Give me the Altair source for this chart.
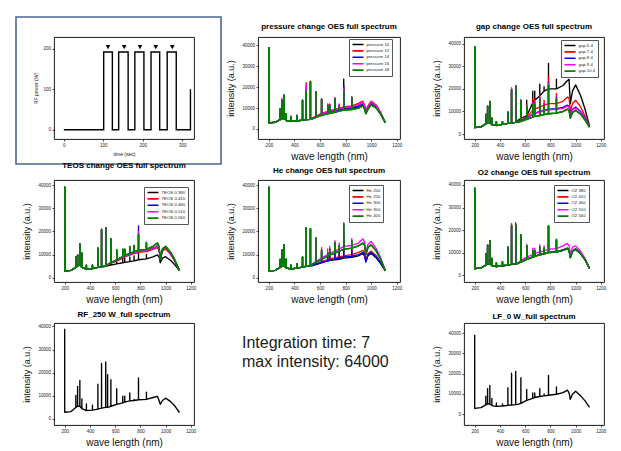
import altair as alt
import pandas as pd

# ---------------- RF power trace (top-left panel) ----------------
PULSE_T = [0, 101, 101, 123, 123, 139, 139, 163, 163, 180, 180, 203, 203, 221, 221, 243, 243, 262, 262, 285, 285, 321, 321]
PULSE_P = [0, 0, 192, 192, 0, 0, 192, 192, 0, 0, 192, 192, 0, 0, 192, 192, 0, 0, 192, 192, 0, 0, 100]
MARK_T = [112, 153, 193, 233, 275]
MARK_P = [204, 204, 204, 204, 204]

# ---------------- spectra ----------------
SHORT_WL = [200, 250, 288, 302, 320, 336, 372, 420, 463, 492, 525]
LONG_WL = [540, 566, 612, 660, 676, 716, 750, 785, 848, 900, 935, 948, 958, 975, 1000, 1040, 1075, 1110]
PEAK_WL = [288, 302, 320, 336, 372, 420, 463, 492, 525, 540, 566, 612, 660, 676, 716, 750, 785, 848]
COLORS5 = ["#000000", "#ff0000", "#0000ff", "#ff00ff", "#008000"]

# pressure
P_NAMES = ["pressure 10", "pressure 12", "pressure 14", "pressure 16", "pressure 18"]
P_SPIKE = 39100
P_SHORT = [2900, 3200, 4500, 5000, 5000, 4000, 3600, 3800, 4200, 4500, 4600]
P_LONG_BLACK = [4900, 5600, 6800, 7500, 7800, 8300, 8800, 9300, 9700, 10500, 11500, 10000, 7600, 10000, 12000, 10300, 7200, 3000]
P_LONG_RED = [5200, 6000, 7500, 8400, 8800, 9400, 10000, 10600, 11000, 12200, 13300, 11500, 8800, 11200, 13300, 11400, 7800, 3100]
P_LONG_BLUE = [5000, 5800, 7000, 7800, 8200, 8800, 9300, 9800, 10200, 11000, 12000, 10500, 8000, 10300, 12300, 10600, 7400, 3000]
P_LONG_MAG = [5100, 5900, 7200, 8000, 8500, 9000, 9600, 10200, 10600, 11600, 12500, 11000, 8300, 10700, 12700, 11000, 7600, 3100]
P_LONG_GREEN = [4800, 5500, 6500, 7200, 7500, 8000, 8500, 9000, 9300, 10000, 11000, 9500, 7300, 9500, 11500, 10000, 7000, 3000]
P_PK_BLACK = [9700, 13400, 16200, 7300, 6000, 6500, 13800, 18500, 22700, 0, 17800, 14200, 11500, 11500, 14500, 11000, 23800, 15000]
P_PK_RED = [9700, 13800, 16200, 7300, 6000, 6500, 13800, 22200, 22700, 0, 17800, 14500, 12000, 12000, 15000, 12000, 20000, 15500]
P_PK_BLUE = [9700, 14000, 16200, 7300, 6000, 6500, 13800, 20000, 22700, 0, 17800, 14200, 11500, 11500, 14500, 11500, 21000, 15000]
P_PK_MAG = [9700, 14600, 16200, 7300, 6000, 6500, 13800, 21000, 22700, 0, 17800, 14300, 11800, 11800, 14800, 11800, 19500, 15200]
P_PK_GREEN = [9700, 13400, 16200, 7300, 6000, 6500, 13800, 17800, 22700, 0, 17800, 14200, 11300, 11300, 14200, 10500, 17800, 15000]

# gap
G_NAMES = ["gap 6.4", "gap 7.4", "gap 8.4", "gap 9.4", "gap 10.4"]
G_SPIKE = 39000
G_SHORT = [2900, 3200, 4500, 5000, 5200, 4200, 3800, 4300, 4700, 5000, 5200]
G_LONG_BLACK = [6000, 7000, 8000, 13800, 15000, 17000, 19000, 20000, 20000, 21500, 23700, 24200, 13500, 19000, 21800, 17000, 11000, 3600]
G_LONG_RED = [5600, 6200, 7500, 10500, 11000, 12000, 12800, 13500, 13500, 14500, 16400, 16000, 10000, 13500, 15000, 12000, 8000, 3500]
G_LONG_BLUE = [5400, 5800, 7000, 9000, 9300, 10000, 10500, 11000, 11200, 11800, 12800, 12300, 8500, 11000, 12000, 10000, 7000, 3300]
G_LONG_MAG = [5300, 5700, 6800, 8700, 9000, 9700, 10200, 10700, 10900, 11400, 12400, 12000, 8300, 10700, 11600, 9800, 6800, 3200]
G_LONG_GREEN = [5200, 5600, 6500, 7500, 7800, 8200, 8600, 9000, 9300, 10000, 11000, 10500, 7000, 9500, 10500, 8800, 6200, 3000]
G_PK_BLACK = [8700, 12400, 14500, 7000, 5500, 5500, 9700, 19900, 21400, 0, 15000, 15000, 19000, 19000, 22100, 21000, 31300, 24300]
G_PK_RED = [8700, 12400, 14500, 7000, 5500, 5500, 9700, 19900, 21400, 0, 15000, 13000, 15500, 15500, 17500, 15000, 25500, 18000]
G_PK_BLUE = [8700, 12400, 14500, 7000, 5500, 5500, 9700, 19900, 21400, 0, 15000, 12500, 14000, 14000, 16000, 13500, 23000, 16500]
G_PK_MAG = [8700, 12400, 14500, 7000, 5500, 5500, 9700, 20500, 21400, 0, 15000, 12300, 13800, 13800, 15800, 13200, 22500, 16200]
G_PK_GREEN = [8700, 12400, 14500, 7000, 5500, 5500, 9700, 19500, 21000, 0, 14500, 12000, 13000, 13000, 15000, 12500, 21500, 15500]

# TEOS
T_NAMES = ["TEOS 0.380", "TEOS 0.410", "TEOS 0.460", "TEOS 0.510", "TEOS 0.560"]
T_SPIKE = 39300
T_SHORT = [2900, 3200, 4500, 5200, 5500, 4500, 3800, 4000, 4500, 4800, 5000]
T_LONG_BLACK = [5200, 5500, 6000, 6500, 6700, 7000, 7300, 7800, 8200, 9000, 9900, 9000, 6500, 8500, 9100, 7500, 5500, 3000]
T_LONG_RED = [5500, 6200, 7200, 8500, 9000, 9800, 10500, 11000, 11300, 12300, 13000, 12000, 8000, 11500, 12500, 10000, 7000, 3100]
T_LONG_BLUE = [5600, 6400, 7500, 8800, 9300, 10200, 10900, 11500, 11800, 12800, 13700, 12500, 8200, 12000, 13000, 10400, 7200, 3100]
T_LONG_MAG = [5600, 6400, 7500, 8800, 9300, 10200, 10900, 11500, 11800, 12800, 13800, 12600, 8200, 12000, 13000, 10400, 7200, 3100]
T_LONG_GREEN = [5700, 6600, 7800, 9200, 9700, 10600, 11300, 12000, 12300, 13600, 15000, 13500, 8000, 12500, 13500, 11000, 7500, 3100]
T_PK_BLACK = [9000, 9900, 14600, 10600, 5500, 5500, 12800, 20900, 21600, 0, 16800, 9000, 8500, 8500, 9000, 9500, 11000, 10000]
T_PK_RED = [9000, 9900, 14600, 10600, 5500, 5500, 12800, 20900, 21600, 0, 16800, 12000, 12000, 12000, 13000, 13500, 19000, 14500]
T_PK_BLUE = [9000, 9900, 14600, 10600, 5500, 5500, 12800, 20900, 21600, 0, 16800, 12000, 12200, 12200, 13200, 13800, 22400, 15000]
T_PK_MAG = [9000, 9900, 14600, 10600, 5500, 5500, 12800, 20900, 21600, 0, 16800, 12000, 12200, 12200, 13200, 13800, 20000, 15000]
T_PK_GREEN = [9000, 9900, 14600, 10600, 5500, 5500, 12800, 20900, 21600, 0, 16800, 12000, 12400, 12400, 13500, 14000, 18700, 15300]

# He
H_NAMES = ["He 200", "He 250", "He 300", "He 350", "He 400"]
H_SPIKE = 39300
H_SHORT = [2900, 3200, 4500, 5000, 5200, 4300, 3800, 4200, 4600, 5000, 5200]
H_LONG_BLACK = [5300, 5700, 6500, 7200, 7500, 7800, 8000, 8500, 8800, 9500, 10500, 9500, 7000, 9500, 10500, 8500, 6000, 3000]
H_LONG_RED = [5500, 6000, 7000, 7800, 8200, 8700, 9000, 9500, 10000, 11000, 11800, 10800, 7500, 10500, 11500, 9500, 6500, 3000]
H_LONG_BLUE = [5300, 5800, 6700, 7400, 7700, 8100, 8500, 9000, 9300, 10000, 11000, 10000, 6800, 10000, 11000, 9000, 6300, 3000]
H_LONG_MAG = [6000, 7000, 8500, 10000, 10500, 11500, 12500, 13500, 14000, 15000, 16800, 15500, 11000, 14500, 15700, 12500, 8500, 3200]
H_LONG_GREEN = [5800, 6600, 8000, 9300, 9800, 10700, 11500, 12300, 12800, 13800, 15000, 14000, 10000, 13200, 14200, 11500, 7800, 3100]
H_PK_BLACK = [7900, 12000, 14300, 8000, 5500, 6000, 9000, 21500, 21200, 0, 17200, 11000, 9500, 10000, 12000, 11000, 18000, 12000]
H_PK_RED = [7900, 12000, 14300, 8000, 5500, 6000, 9000, 21500, 21200, 0, 17200, 11500, 10000, 10500, 12500, 11500, 19000, 13000]
H_PK_BLUE = [7900, 12000, 14300, 8000, 5500, 6000, 9000, 21500, 21200, 0, 17200, 12000, 10500, 11000, 13000, 11500, 20500, 12500]
H_PK_MAG = [7900, 12000, 14300, 8000, 5500, 6000, 9000, 21500, 21200, 0, 17200, 13000, 12500, 13500, 16000, 15000, 23800, 17000]
H_PK_GREEN = [7900, 12000, 14300, 8000, 5500, 6000, 9000, 21500, 21200, 0, 17200, 12000, 11000, 12500, 15300, 14000, 23400, 16000]

# O2
O_NAMES = ["O2 380", "O2 410", "O2 460", "O2 510", "O2 560"]
O_SPIKE = 38800
O_SHORT = [2900, 3200, 4500, 5000, 5200, 4300, 3800, 4200, 4500, 4800, 5000]
O_LONG_BLACK = [5200, 5800, 7000, 8000, 8400, 9000, 9500, 10000, 10300, 11000, 11800, 11000, 7800, 10500, 11500, 9500, 6800, 3000]
O_LONG_RED = [5200, 5900, 7100, 8100, 8500, 9100, 9600, 10100, 10400, 11200, 12000, 11200, 8000, 10700, 11700, 9700, 6900, 3000]
O_LONG_BLUE = [5200, 5900, 7100, 8100, 8500, 9100, 9600, 10100, 10400, 11200, 12000, 11200, 8000, 10700, 11700, 9700, 6900, 3000]
O_LONG_MAG = [5500, 6500, 8000, 9200, 9700, 10300, 10800, 11500, 11800, 13000, 14100, 13000, 9000, 12500, 13000, 10500, 7500, 3100]
O_LONG_GREEN = [5200, 5800, 7000, 8000, 8400, 9000, 9500, 10000, 10300, 11000, 11800, 11000, 7800, 10500, 11400, 9500, 6800, 3000]
O_PK_BLACK = [9500, 13400, 15300, 7500, 5500, 6000, 12400, 22000, 22500, 0, 17900, 13100, 11000, 11000, 12500, 12000, 21800, 15700]
O_PK_RED = [9500, 13400, 15300, 7500, 5500, 6000, 12400, 22800, 23300, 0, 17900, 13100, 11000, 11000, 12500, 12000, 21800, 15700]
O_PK_BLUE = [9500, 13400, 15300, 7500, 5500, 6000, 12400, 22000, 22500, 0, 17900, 13100, 11000, 11000, 12500, 12000, 21800, 15700]
O_PK_MAG = [9500, 13400, 15300, 7500, 5500, 6000, 12400, 22000, 22500, 0, 17900, 13600, 12000, 12000, 13500, 13000, 22000, 16000]
O_PK_GREEN = [9500, 13400, 15300, 7500, 5500, 6000, 12400, 22000, 22500, 0, 17900, 13100, 11000, 11000, 12500, 12000, 21800, 15700]

# RF 250 W single spectrum
RF_SPIKE = 39000
RF_SHORT = [2900, 3200, 5000, 5500, 5500, 4500, 3600, 3800, 4300, 4700, 5000]
RF_LONG = [5000, 5500, 6300, 7000, 7300, 7800, 8000, 8300, 8500, 9300, 9800, 8000, 6300, 8000, 9000, 7500, 5500, 2800]
RF_PEAKS = [10200, 14100, 16700, 8700, 6500, 6000, 15000, 24000, 24700, 19200, 17000, 13100, 9900, 9900, 11300, 8500, 17700, 11600]

# LF 0 W single spectrum
LF_SPIKE = 39200
LF_SHORT = [2800, 3200, 4500, 5000, 5000, 4200, 3800, 4000, 4300, 4500, 4700]
LF_LONG = [4800, 5300, 6800, 7800, 8200, 8700, 9000, 9300, 9800, 10600, 11800, 10500, 7300, 9800, 11300, 9000, 6500, 3300]
LF_PEAKS = [8800, 12600, 14200, 7700, 5500, 5000, 13100, 20200, 21100, 0, 18000, 12200, 10400, 10400, 12600, 10000, 19100, 13400]

INFO_LINES = ["Integration time: 7", "max intensity: 64000"]

FONT = "Liberation Sans"
WL_DOMAIN = [115, 1225]
WL_TICKS = [200, 400, 600, 800, 1000, 1200]
I_TICKS = [0, 10000, 20000, 30000, 40000]


def spectrum_rows(name, spike, short, long_, peaks):
    peak_at = dict(zip(PEAK_WL, peaks))
    pts = [(199.6, spike)]
    for w, b in zip(SHORT_WL + LONG_WL, short + long_):
        p = peak_at.get(w, 0)
        if p:
            pts += [(w - 0.3, b), (w, p), (w + 0.3, b)]
        else:
            pts.append((w, b))
    return [{"series": name, "wl": w, "I": v, "k": i} for i, (w, v) in enumerate(pts)]


def spectra_df(names, spike, short, longs, peaks):
    rows = []
    for n, lg, pk in zip(names, longs, peaks):
        rows += spectrum_rows(n, spike, short, lg, pk)
    return pd.DataFrame(rows)


def spec_panel(df, title, ydom, width, toff, names=None, lx=90, ly=3):
    if names:
        color = alt.Color(
            "series:N",
            scale=alt.Scale(domain=names, range=COLORS5),
            legend=alt.Legend(
                orient="none", legendX=lx, legendY=ly, direction="vertical", title=None,
                labelFontSize=4.3, labelFont=FONT, labelColor="#222", labelOffset=2,
                symbolType="stroke", symbolSize=121, symbolStrokeWidth=1.6,
                clipHeight=6, rowPadding=0.4, padding=2.5,
                strokeColor="#555", fillColor="white",
            ),
        )
        order = list(names) + [names[-1], names[-1]]
    else:
        names = [df["series"].iloc[0]]
        order = names
        color = alt.value("#000000")
    base = alt.Chart(df).mark_line(strokeWidth=1.35, clip=True, strokeJoin="round").encode(
        x=alt.X("wl:Q", scale=alt.Scale(domain=WL_DOMAIN, nice=False, zero=False),
                axis=alt.Axis(values=WL_TICKS, title="wave length (nm)", format="d",
                              titleFontSize=10, titlePadding=4)),
        y=alt.Y("I:Q", scale=alt.Scale(domain=ydom, nice=False, zero=False),
                axis=alt.Axis(values=I_TICKS, title="intensity (a.u.)", format="d",
                              titleFontSize=9, titlePadding=6)),
        color=color,
        order="k:Q",
    )
    # one layer per series; the last (top) series is stroked again so that it
    # stays opaque over the identical lines underneath, as in the original plot
    layers = [base.transform_filter(alt.datum.series == n) for n in order]
    return alt.layer(*layers).properties(
        width=width, height=102,
        title=alt.Title(title, offset=toff, fontSize=8, font=FONT, fontWeight="bold"),
    )


# ---- panel 1: RF power pulses with blue frame ----
pulse_df = pd.DataFrame({"t": PULSE_T, "p": PULSE_P, "k": list(range(len(PULSE_T)))})
mark_df = pd.DataFrame({"t": MARK_T, "p": MARK_P})
xs1 = alt.Scale(domain=[-25, 330], nice=False, zero=False)
ys1 = alt.Scale(domain=[-23, 229], nice=False, zero=False)
pulse_line = alt.Chart(pulse_df).mark_line(color="black", strokeWidth=1.4).encode(
    x=alt.X("t:Q", scale=xs1, axis=alt.Axis(values=[0, 50, 100, 150, 200, 250, 300], title="time (sec)",
                                            titleFontSize=5, titlePadding=4)),
    y=alt.Y("p:Q", scale=ys1, axis=alt.Axis(values=[0, 50, 100, 150, 200], title="RF power (W)",
                                            titleFontSize=5, titlePadding=4)),
    order="k:Q",
)
pulse_marks = alt.Chart(mark_df).mark_point(shape="triangle-down", filled=True, color="black", size=22, opacity=1).encode(
    x=alt.X("t:Q", scale=xs1), y=alt.Y("p:Q", scale=ys1)
)
frame = alt.Chart(pd.DataFrame({"f": [0]})).mark_rect(
    fill="transparent", stroke="#4a6898", strokeWidth=1.6
).encode(x=alt.value(-38), x2=alt.value(167), y=alt.value(-20), y2=alt.value(127))
p1 = alt.layer(frame, pulse_line, pulse_marks).properties(width=140, height=102)

p2 = spec_panel(
    spectra_df(P_NAMES, P_SPIKE, P_SHORT,
               [P_LONG_BLACK, P_LONG_RED, P_LONG_BLUE, P_LONG_MAG, P_LONG_GREEN],
               [P_PK_BLACK, P_PK_RED, P_PK_BLUE, P_PK_MAG, P_PK_GREEN]),
    "pressure change OES full spectrum", [-4800, 44000], 142, 6, P_NAMES, lx=91, ly=2)
p3 = spec_panel(
    spectra_df(G_NAMES, G_SPIKE, G_SHORT,
               [G_LONG_BLACK, G_LONG_RED, G_LONG_BLUE, G_LONG_MAG, G_LONG_GREEN],
               [G_PK_BLACK, G_PK_RED, G_PK_BLUE, G_PK_MAG, G_PK_GREEN]),
    "gap change OES full spectrum", [-2200, 43000], 140, 6, G_NAMES, lx=97, ly=3)
p4 = spec_panel(
    spectra_df(T_NAMES, T_SPIKE, T_SHORT,
               [T_LONG_BLACK, T_LONG_RED, T_LONG_BLUE, T_LONG_MAG, T_LONG_GREEN],
               [T_PK_BLACK, T_PK_RED, T_PK_BLUE, T_PK_MAG, T_PK_GREEN]),
    "TEOS change OES full spectrum", [-1800, 42200], 140, 10, T_NAMES, lx=90, ly=7)
p5 = spec_panel(
    spectra_df(H_NAMES, H_SPIKE, H_SHORT,
               [H_LONG_BLACK, H_LONG_RED, H_LONG_BLUE, H_LONG_MAG, H_LONG_GREEN],
               [H_PK_BLACK, H_PK_RED, H_PK_BLUE, H_PK_MAG, H_PK_GREEN]),
    "He change OES full spectrum", [-1800, 42200], 142, 5, H_NAMES, lx=91, ly=5)
p6 = spec_panel(
    spectra_df(O_NAMES, O_SPIKE, O_SHORT,
               [O_LONG_BLACK, O_LONG_RED, O_LONG_BLUE, O_LONG_MAG, O_LONG_GREEN],
               [O_PK_BLACK, O_PK_RED, O_PK_BLUE, O_PK_MAG, O_PK_GREEN]),
    "O2 change OES full spectrum", [-3000, 42200], 140, 3, O_NAMES, lx=90, ly=5)
p7 = spec_panel(spectra_df(["RF 250 W"], RF_SPIKE, RF_SHORT, [RF_LONG], [RF_PEAKS]),
                "RF_250 W_full spectrum", [-2600, 41500], 140, 4)
p9 = spec_panel(spectra_df(["LF 0 W"], LF_SPIKE, LF_SHORT, [LF_LONG], [LF_PEAKS]),
                "LF_0 W_full spectrum", [-5400, 45000], 140, 2)

info_df = pd.DataFrame({"line": INFO_LINES})
p8 = (
    alt.Chart(info_df)
    .mark_text(align="left", baseline="middle", font=FONT, fontSize=16, color="#1a1a1a")
    .encode(
        x=alt.value(-16),
        y=alt.Y("line:N", scale=alt.Scale(domain=INFO_LINES, range=[20, 39], padding=0), axis=None),
        text="line:N",
    )
    .properties(width=142, height=102, view=alt.ViewBackground(stroke="transparent"))
)

chart = (
    alt.concat(p1, p2, p3, p4, p5, p6, p7, p8, p9, columns=3, spacing={"row": 41, "column": 64}, bounds="flush")
    .resolve_scale(color="independent", x="independent", y="independent")
    .properties(background="white", padding={"left": 14, "top": 15, "right": 0, "bottom": 0})
    .configure_view(stroke="black", strokeWidth=0.9)
    .configure_axis(
        labelFont=FONT, labelFontSize=4.5, labelColor="#222", labelPadding=1.5,
        tickSize=2, tickColor="black", tickWidth=0.7, domain=False, grid=False,
        titleFont=FONT, titleFontWeight="normal", titleColor="#111",
    )
)

chart.save("out.html", embed_options={"renderer": "svg", "actions": False})
